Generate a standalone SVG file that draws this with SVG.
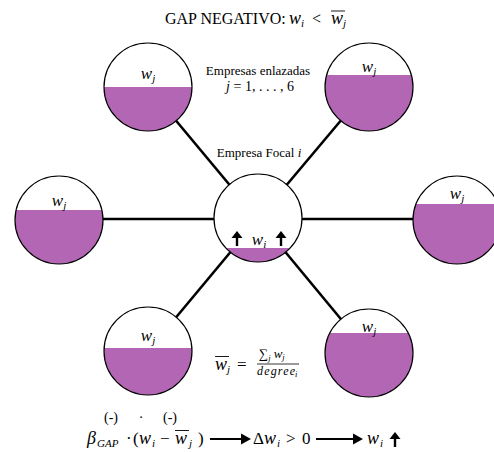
<svg xmlns="http://www.w3.org/2000/svg" width="494" height="452" viewBox="0 0 494 452" font-family="'Liberation Serif','DejaVu Serif',serif">
<style>
text{font-family:"Liberation Serif","DejaVu Serif",serif;fill:#000}
.it{font-style:italic}
.lbl{font-size:17px;font-style:italic;text-anchor:middle}
.sub{font-size:11px}
.ring{fill:none;stroke:#000;stroke-width:1.2}
.bg{fill:#fff}
.liq{fill:#b366b3}
.edge{stroke:#000;stroke-width:2.6}
.ar{stroke:#000;stroke-width:2.4;fill:none}
.ob{stroke:#000;stroke-width:0.9}
</style>
<defs>
<clipPath id="cC"><rect x="200" y="248" width="120" height="60"/></clipPath>
<clipPath id="cTL"><rect x="90" y="87" width="120" height="60"/></clipPath>
<clipPath id="cTR"><rect x="310" y="75" width="120" height="70"/></clipPath>
<clipPath id="cL"><rect x="0" y="210" width="120" height="60"/></clipPath>
<clipPath id="cR"><rect x="400" y="204" width="120" height="70"/></clipPath>
<clipPath id="cBL"><rect x="90" y="348" width="120" height="60"/></clipPath>
<clipPath id="cBR"><rect x="310" y="333" width="120" height="70"/></clipPath>
</defs>

<g id="title">
<text x="165" y="24" font-size="16">GAP NEGATIVO:</text>
<text x="289" y="24" font-size="18" class="it">w<tspan class="sub" dy="3">i</tspan></text>
<text x="312" y="24" font-size="16">&lt;</text>
<text x="331" y="24" font-size="18" class="it">w<tspan class="sub" dy="3">j</tspan></text>
<line class="ob" x1="331" y1="11" x2="345" y2="11"/>
</g>

<g id="connectors">
<line class="edge" x1="258" y1="219" x2="148" y2="87"/>
<line class="edge" x1="258" y1="219" x2="369" y2="87"/>
<line class="edge" x1="258" y1="219" x2="59" y2="219"/>
<line class="edge" x1="258" y1="219" x2="457" y2="219"/>
<line class="edge" x1="258" y1="219" x2="148" y2="351"/>
<line class="edge" x1="258" y1="219" x2="369" y2="353"/>
</g>

<g id="focal">
<circle class="bg" cx="258" cy="218" r="44"/>
<circle class="liq" cx="258" cy="218" r="44" clip-path="url(#cC)"/>
<circle class="ring" cx="258" cy="218" r="44"/>
<text class="lbl" x="259" y="245">w<tspan class="sub" dy="3">i</tspan></text>
<path class="ar" d="M237,246 V235"/><path d="M231.5,238 L237,231 L242.5,238 z"/>
<path class="ar" d="M281,246 V235"/><path d="M275.5,238 L281,231 L286.5,238 z"/>
</g>

<g id="tl">
<circle class="bg" cx="148" cy="87" r="44"/>
<circle class="liq" cx="148" cy="87" r="44" clip-path="url(#cTL)"/>
<circle class="ring" cx="148" cy="87" r="44"/>
<text class="lbl" x="148" y="79">w<tspan class="sub" dy="3">j</tspan></text>
</g>
<g id="tr">
<circle class="bg" cx="369" cy="87" r="44"/>
<circle class="liq" cx="369" cy="87" r="44" clip-path="url(#cTR)"/>
<circle class="ring" cx="369" cy="87" r="44"/>
<text class="lbl" x="369" y="72">w<tspan class="sub" dy="3">j</tspan></text>
</g>
<g id="l">
<circle class="bg" cx="59" cy="220" r="44"/>
<circle class="liq" cx="59" cy="220" r="44" clip-path="url(#cL)"/>
<circle class="ring" cx="59" cy="220" r="44"/>
<text class="lbl" x="59" y="206">w<tspan class="sub" dy="3">j</tspan></text>
</g>
<g id="r">
<circle class="bg" cx="457" cy="220" r="44"/>
<circle class="liq" cx="457" cy="220" r="44" clip-path="url(#cR)"/>
<circle class="ring" cx="457" cy="220" r="44"/>
<text class="lbl" x="457" y="199">w<tspan class="sub" dy="3">j</tspan></text>
</g>
<g id="bl">
<circle class="bg" cx="148" cy="351" r="44"/>
<circle class="liq" cx="148" cy="351" r="44" clip-path="url(#cBL)"/>
<circle class="ring" cx="148" cy="351" r="44"/>
<text class="lbl" x="148" y="341">w<tspan class="sub" dy="3">j</tspan></text>
</g>
<g id="br">
<circle class="bg" cx="369" cy="353" r="44"/>
<circle class="liq" cx="369" cy="353" r="44" clip-path="url(#cBR)"/>
<circle class="ring" cx="369" cy="353" r="44"/>
<text class="lbl" x="369" y="332">w<tspan class="sub" dy="3">j</tspan></text>
</g>

<text x="258" y="75" font-size="13" text-anchor="middle">Empresas enlazadas</text>
<text x="260" y="91" font-size="14" text-anchor="middle"><tspan class="it">j</tspan> = 1, . . . , 6</text>
<text x="259" y="157" font-size="13" text-anchor="middle">Empresa Focal <tspan class="it">i</tspan></text>

<g id="formula">
<text x="215" y="370" font-size="18" class="it">w<tspan class="sub" dy="3">j</tspan></text>
<line class="ob" x1="215" y1="356.5" x2="229" y2="356.5"/>
<text x="237" y="370" font-size="17">=</text>
<text x="259" y="358" font-size="13">∑<tspan class="it" font-size="8.5" dy="3">j</tspan><tspan class="it" dy="-3" dx="3">w</tspan><tspan class="it" font-size="8.5" dy="2">j</tspan></text>
<line x1="257" y1="364" x2="299" y2="364" stroke="#000" stroke-width="0.8"/>
<text x="257" y="375" font-size="12" class="it" textLength="38" lengthAdjust="spacing">degree</text>
<text x="295" y="377" font-size="8.5" class="it">i</text>
</g>

<text x="111" y="422" font-size="14" text-anchor="middle">(-)</text>
<text x="141" y="422" font-size="14" text-anchor="middle">·</text>
<text x="170" y="422" font-size="14" text-anchor="middle">(-)</text>

<g id="equation" font-size="17">
<text x="87" y="444" class="it" font-size="18">β</text>
<text x="97" y="447" class="it" font-size="11">GAP</text>
<text x="126" y="444">·</text>
<text x="133" y="444">(</text>
<text x="139" y="444" class="it" font-size="18">w</text>
<text x="152" y="447" class="it" font-size="11">i</text>
<text x="160" y="444">−</text>
<text x="175" y="444" class="it" font-size="18">w</text>
<line class="ob" x1="175" y1="430.5" x2="189" y2="430.5"/>
<text x="189" y="447" class="it" font-size="11">j</text>
<text x="198" y="444">)</text>
<line x1="210" y1="439" x2="243" y2="439" stroke="#000" stroke-width="2.2"/>
<path d="M241,433.5 L251,439 L241,444.5 z"/>
<text x="253" y="444">Δ</text>
<text x="264" y="444" class="it" font-size="18">w</text>
<text x="277" y="447" class="it" font-size="11">i</text>
<text x="286" y="444">&gt;</text>
<text x="302" y="444">0</text>
<line x1="316" y1="439" x2="355" y2="439" stroke="#000" stroke-width="2.2"/>
<path d="M353,433.5 L363,439 L353,444.5 z"/>
<text x="367" y="444" class="it" font-size="18">w</text>
<text x="380" y="447" class="it" font-size="11">i</text>
<path class="ar" d="M395,447 V436"/><path d="M389.5,439 L395,432 L400.5,439 z"/>
</g>
</svg>
